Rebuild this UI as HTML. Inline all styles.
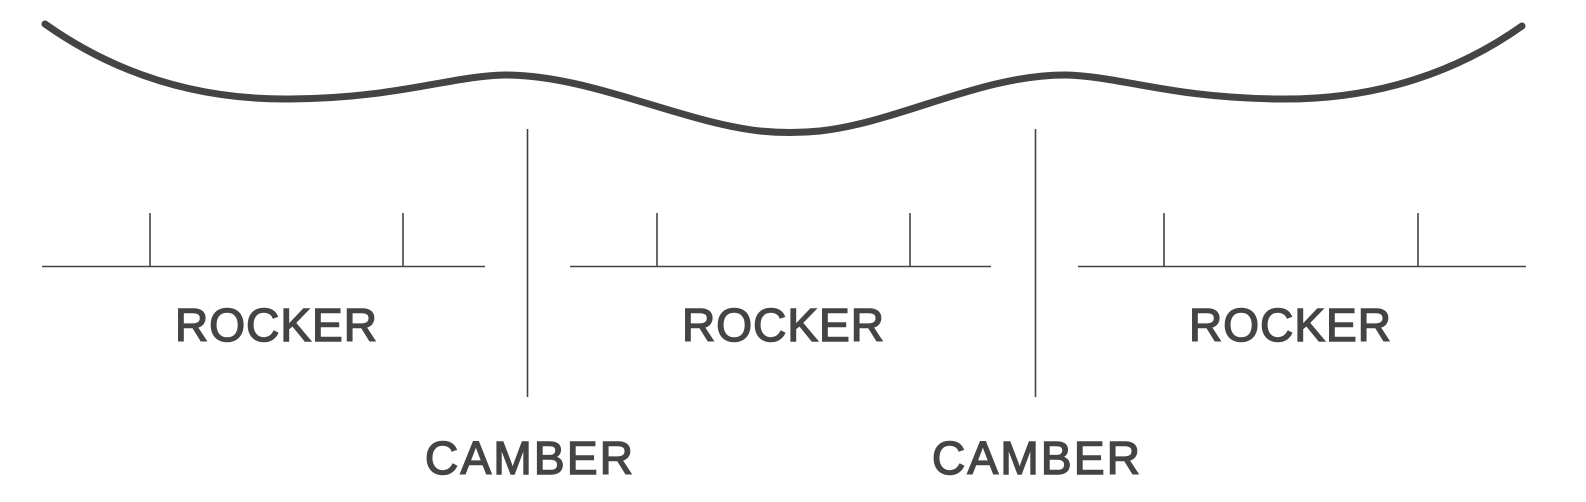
<!DOCTYPE html>
<html><head><meta charset="utf-8"><style>html,body{margin:0;padding:0;background:#fff}svg{display:block}</style></head>
<body>
<svg width="1586" height="502" viewBox="0 0 1586 502" xmlns="http://www.w3.org/2000/svg">
<path d="M45,24 C110,70 190,100 290,99 C400,98 450,76 505,75 C590,75 680,122 760,131 C780,133 800,133 820,131 C900,122 980,75 1065,75 C1120,76 1170,98 1280,99 C1380,100 1460,70 1522,26" fill="none" stroke="#444" stroke-width="7" stroke-linecap="round"/>
<g stroke="#444" stroke-width="1.6">
<line x1="527.5" y1="129" x2="527.5" y2="397"/>
<line x1="1035.5" y1="129" x2="1035.5" y2="397"/>
<line x1="42" y1="266.5" x2="485" y2="266.5"/>
<line x1="570" y1="266.5" x2="991" y2="266.5"/>
<line x1="1078" y1="266.5" x2="1526" y2="266.5"/>
<line x1="150" y1="213" x2="150" y2="266"/>
<line x1="403" y1="213" x2="403" y2="266"/>
<line x1="657" y1="213" x2="657" y2="266"/>
<line x1="910" y1="213" x2="910" y2="266"/>
<line x1="1164" y1="213" x2="1164" y2="266"/>
<line x1="1418" y1="213" x2="1418" y2="266"/>
</g>
<g fill="#444" stroke="#444" stroke-width="1.5" font-family="Liberation Sans, sans-serif" font-size="46">
<text x="175" y="341" textLength="202" lengthAdjust="spacing">ROCKER</text>
<text x="682" y="341" textLength="202" lengthAdjust="spacing">ROCKER</text>
<text x="1189" y="341" textLength="202" lengthAdjust="spacing">ROCKER</text>
<text x="425" y="474" textLength="208" lengthAdjust="spacing">CAMBER</text>
<text x="932" y="474" textLength="208" lengthAdjust="spacing">CAMBER</text>
</g>
</svg>
</body></html>
